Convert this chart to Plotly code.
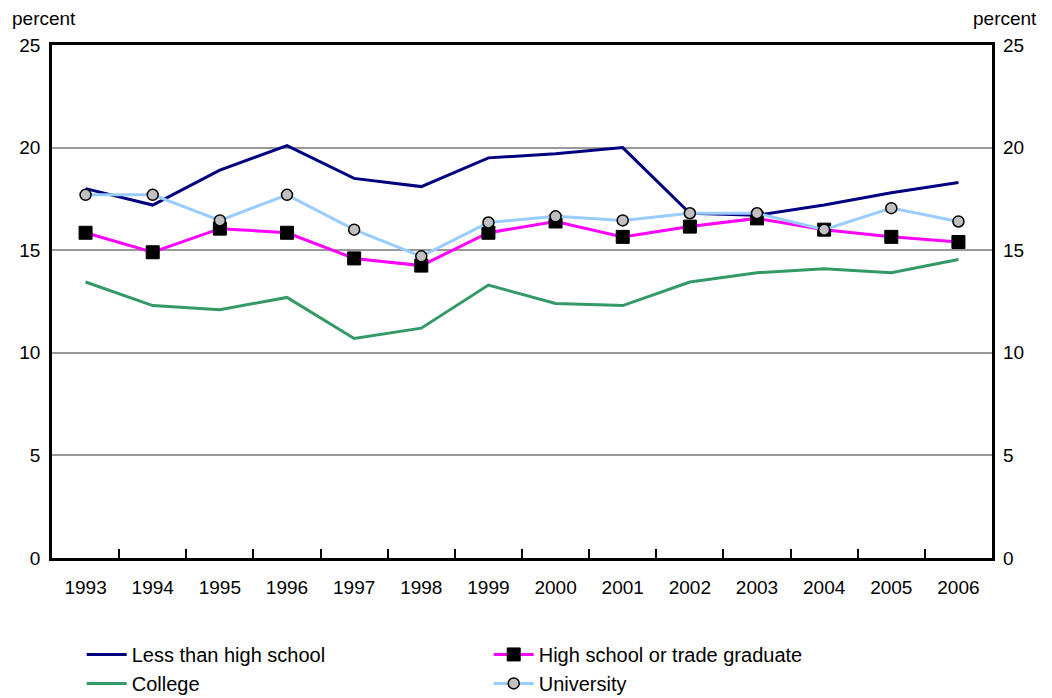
import plotly.graph_objects as go

years = ["1993", "1994", "1995", "1996", "1997", "1998", "1999", "2000", "2001", "2002", "2003", "2004", "2005", "2006"]
less_than_hs = [18.0, 17.2, 18.9, 20.1, 18.5, 18.1, 19.5, 19.7, 20.0, 16.8, 16.7, 17.2, 17.8, 18.3]
high_school = [15.85, 14.9, 16.05, 15.85, 14.6, 14.25, 15.85, 16.4, 15.65, 16.15, 16.55, 16.0, 15.65, 15.4]
college = [13.45, 12.3, 12.1, 12.7, 10.7, 11.2, 13.3, 12.4, 12.3, 13.45, 13.9, 14.1, 13.9, 14.55]
university = [17.7, 17.7, 16.45, 17.7, 16.0, 14.7, 16.35, 16.65, 16.45, 16.8, 16.8, 16.0, 17.05, 16.4]
y_ticks = [0, 5, 10, 15, 20, 25]

FONT = "Liberation Sans Narrow, Arial Narrow, Liberation Sans, sans-serif"

fig = go.Figure()
fig.add_trace(go.Scatter(x=years, y=less_than_hs, mode="lines", name="Less than high school",
                         line=dict(color="#000080", width=3), legendrank=1))
fig.add_trace(go.Scatter(x=years, y=college, mode="lines", name="College",
                         line=dict(color="#339966", width=3), legendrank=3))
fig.add_trace(go.Scatter(x=years, y=high_school, mode="lines+markers", name="High school or trade graduate",
                         line=dict(color="#FF00FF", width=3),
                         marker=dict(symbol="square", size=13, color="#000000",
                                     line=dict(color="#000000", width=1)), legendrank=2))
fig.add_trace(go.Scatter(x=years, y=university, mode="lines+markers", name="University",
                         line=dict(color="#99CCFF", width=3),
                         marker=dict(symbol="circle", size=11, color="#C0C0C0",
                                     line=dict(color="#000000", width=1.5)), legendrank=4))
# invisible trace to activate right axis
fig.add_trace(go.Scatter(x=years, y=college, yaxis="y2", mode="lines", line=dict(width=0),
                         opacity=0, showlegend=False, hoverinfo="skip"))

fig.update_layout(
    width=1052, height=698,
    margin=dict(l=52, r=60, t=45, b=140, autoexpand=False),
    paper_bgcolor="white", plot_bgcolor="white",
    font=dict(family=FONT, size=19, color="#000000"),
    showlegend=True,
    legend=dict(orientation="h", x=0.0316, xanchor="left", y=-0.15, yanchor="top",
                entrywidth=352, entrywidthmode="pixels", traceorder="normal",
                font=dict(family=FONT, size=20), itemwidth=40, tracegroupgap=0),
    xaxis=dict(type="category", showline=True, linecolor="#000000", linewidth=2.5, mirror=True,
               ticks="inside", tickson="boundaries", ticklen=9, tickcolor="#000000", tickwidth=2,
               showgrid=False, ticklabelstandoff=10, range=[-0.5, 13.5], automargin=False),
    yaxis=dict(range=[0, 25], tickvals=y_ticks, showgrid=True, gridcolor="#999999", gridwidth=2,
               showline=True, linecolor="#000000", linewidth=2.5, mirror=True, ticks="",
               zeroline=False, ticklabelstandoff=5, automargin=False),
    yaxis2=dict(range=[0, 25], tickvals=y_ticks, overlaying="y", side="right", showgrid=False,
                showline=False, ticks="", zeroline=False, ticklabelstandoff=10, automargin=False),
)
fig.add_annotation(text="percent", xref="paper", yref="paper",
                   x=-42 / 940, y=1 + 27 / 513, xanchor="left", yanchor="middle", showarrow=False,
                   font=dict(family=FONT, size=19))
fig.add_annotation(text="percent", xref="paper", yref="paper",
                   x=1 + 47 / 940, y=1 + 27 / 513, xanchor="right", yanchor="middle", showarrow=False,
                   font=dict(family=FONT, size=19))

fig.write_html("out.html", post_script="document.body.style.margin='0';",
               config={"displayModeBar": False})
